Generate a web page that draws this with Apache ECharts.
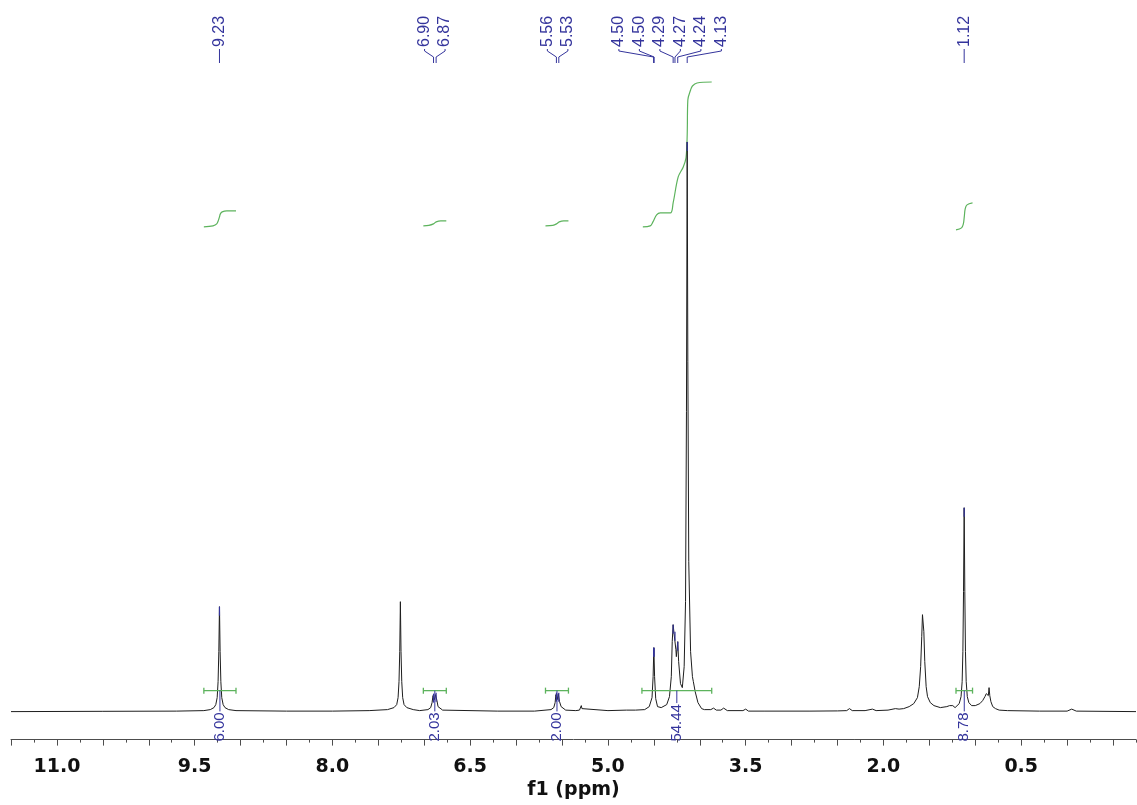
<!DOCTYPE html>
<html>
<head>
<meta charset="utf-8">
<script src="https://cdn.jsdelivr.net/npm/echarts@6/dist/echarts.min.js"></script>
<style>
html,body{margin:0;padding:0;background:#fff;}
#chart{width:1137px;height:805px;}
</style>
</head>
<body>
<div id="chart"></div>
<script>
// ---------- data ----------
// spectrum: [ppm, intensity]
const spectrum = [
  [11.5,0],[10.5,0.3],[9.7,0.5],
  [9.40,1],[9.33,2],[9.29,4],[9.27,7],[9.255,14],[9.245,30],[9.237,60],[9.23,105],[9.223,60],[9.215,30],[9.205,14],[9.19,7],[9.17,4],[9.13,2],[9.05,1],
  [8.5,0.5],[8.0,0.5],[7.6,1],
  [7.40,2],[7.33,4],[7.30,7],[7.285,14],[7.275,30],[7.267,60],[7.26,110],[7.253,60],[7.245,30],[7.235,14],[7.22,7],[7.19,4],[7.12,2],[7.05,1],
  [6.96,2],[6.93,4],[6.915,9],[6.905,16],[6.899,18],[6.889,12],[6.878,17],[6.871,19],[6.862,11],[6.85,5],[6.83,3],[6.80,1.5],
  [6.2,0.5],[5.8,0.5],
  [5.62,2],[5.59,4],[5.575,9],[5.567,17],[5.561,19],[5.552,12],[5.541,18],[5.535,19],[5.527,10],[5.51,5],[5.49,3],[5.46,1.5],
  [5.35,1],[5.31,1.5],[5.297,3],[5.29,6],[5.283,3],[5.27,1.5],
  [5.0,1],[4.8,1.5],[4.70,1.5],[4.60,2],[4.55,5],[4.52,14],[4.508,35],[4.50,64],[4.492,35],[4.48,13],[4.46,5],[4.42,4],
  [4.36,7],[4.33,15],[4.31,35],[4.30,70],[4.29,87],[4.28,78],[4.27,80],[4.26,62],[4.255,55],[4.24,70],[4.23,50],[4.21,28],[4.19,24],
  [4.17,45],[4.155,110],[4.145,300],[4.137,570],[4.13,350],[4.12,150],[4.10,60],[4.08,35],[4.07,30],[4.05,20],[4.02,9],[3.98,3],[3.95,2],
  [3.88,2],[3.85,3.5],[3.82,1.5],[3.77,1.5],[3.74,3.5],[3.70,1],[3.53,1],[3.50,2.5],[3.47,0.5],
  [3.3,0.5],[2.8,0.5],[2.5,0.7],[2.40,1],[2.37,3],[2.34,1],[2.20,1],[2.12,2.5],[2.08,1],
  [1.95,1.5],[1.87,3],[1.83,2.5],[1.78,3],
  [1.72,5],[1.67,8],[1.63,14],[1.61,25],[1.595,45],[1.583,75],[1.575,97],[1.568,99],[1.56,80],[1.55,50],[1.535,25],[1.52,15],[1.49,9],[1.45,6],[1.38,4],[1.31,5],
  [1.28,6],[1.26,8],[1.245,6],[1.22,4],[1.20,4.5],
  [1.175,8],[1.155,15],[1.143,30],[1.135,60],[1.128,120],[1.121,204],[1.114,120],[1.107,60],[1.099,30],[1.087,15],[1.07,9],[1.04,6],[1.00,6],[0.95,8],
  [0.92,11],[0.895,15],[0.88,18],[0.872,17],[0.866,20],[0.858,16],[0.85,24],[0.842,16],[0.83,10],[0.81,5],[0.78,3],[0.74,1.5],[0.65,1],
  [0.3,0.5],[0.0,0.5],[-0.05,2.5],[-0.07,2.5],[-0.1,0.5],[-0.75,0]
];

const tickLabels = [11.0, 9.5, 8.0, 6.5, 5.0, 3.5, 2.0, 0.5];

const peakLabels = ['9.23','6.90','6.87','5.56','5.53','4.50','4.50','4.29','4.27','4.24','4.13','1.12'];
const peakPositions = [9.23, 6.899, 6.871, 5.561, 5.535, 4.503, 4.497, 4.29, 4.27, 4.24, 4.137, 1.121];

const integralRanges = [[9.40,9.05],[7.01,6.76],[5.68,5.43],[4.63,3.87],[1.21,1.03]];
const integralValues = ['6.00','2.03','2.00','54.44','8.78'];

const integralCurve1 = [[9.40,485],[9.30,486],[9.26,488],[9.24,492],[9.23,495],[9.22,498],[9.20,500],[9.15,501],[9.05,501]];
const integralCurve2 = [[7.01,486],[6.95,486.5],[6.90,488],[6.87,490],[6.82,491],[6.76,491]];
const integralCurve3 = [[5.68,486],[5.60,486.5],[5.56,488],[5.53,490],[5.48,491],[5.43,491]];
const integralCurve4 = [[4.62,485],[4.54,486],[4.51,490],[4.47,497],[4.43,499],[4.32,499],[4.29,509],[4.235,535],[4.18,545],[4.15,554],[4.137,577],[4.13,612],[4.10,622],[4.08,626],[4.03,629],[3.87,630]];
const integralCurve5 = [[1.21,482],[1.15,484],[1.13,488],[1.12,495],[1.11,503],[1.09,507],[1.03,509]];
const integralCurves = [integralCurve1, integralCurve2, integralCurve3, integralCurve4, integralCurve5];

// ---------- styling ----------
const BLUE = '#34349c';
const GREEN = '#5db35d';
const X_MIN = -0.75, X_MAX = 11.5;

const minorTicks = [];
for (let v = X_MIN; v <= X_MAX + 1e-9; v += 0.25) minorTicks.push(+v.toFixed(2));
const majorTicks = [];
for (let v = -0.5; v <= X_MAX + 1e-9; v += 0.5) majorTicks.push(+v.toFixed(2));

// group peak labels that are close together
const groups = [];
peakPositions.forEach((p, i) => {
  const g = groups[groups.length - 1];
  if (g && Math.abs(peakPositions[g[g.length - 1]] - p) < 0.3) g.push(i);
  else groups.push([i]);
});
const groupOf = {};
groups.forEach((g, gi) => g.forEach((idx, k) => { groupOf[idx] = {gi, k, n: g.length}; }));

function apexOf(ppm) {
  let best = 0;
  spectrum.forEach(pt => { if (Math.abs(pt[0] - ppm) < 0.008 && pt[1] > best) best = pt[1]; });
  return best;
}

const measureCtx = document.createElement('canvas').getContext('2d');
function textW(t, font) { measureCtx.font = font; return measureCtx.measureText(t).width; }

const labelFont = '16px "Liberation Sans", Arial, sans-serif';
const intFont = '15px "Liberation Sans", Arial, sans-serif';

const chart = echarts.init(document.getElementById('chart'));

const series = [
  {
    type: 'line', data: spectrum, showSymbol: false, symbol: 'none',
    lineStyle: {color: '#1e1e1e', width: 1}, silent: true, z: 3
  }
];
integralCurves.forEach(c => series.push({
  type: 'line', data: c, symbol: 'none', smooth: 0.35,
  lineStyle: {color: GREEN, width: 1.2}, silent: true, z: 2
}));

// integral bars
series.push({
  type: 'custom', clip: false, silent: true, z: 4,
  data: integralRanges.map((r, i) => [r[0], r[1], i]),
  encode: {x: [0, 1]},
  renderItem: function (params, api) {
    const level = 21;
    const a = api.coord([api.value(0), level]);
    const b = api.coord([api.value(1), level]);
    const st = {stroke: GREEN, lineWidth: 1.3};
    return {type: 'group', children: [
      {type: 'line', shape: {x1: a[0], y1: a[1], x2: b[0], y2: b[1]}, style: st},
      {type: 'line', shape: {x1: a[0], y1: a[1] - 3, x2: a[0], y2: a[1] + 3}, style: st},
      {type: 'line', shape: {x1: b[0], y1: b[1] - 3, x2: b[0], y2: b[1] + 3}, style: st}
    ]};
  }
});

// integral values (below spectrum, rotated)
series.push({
  type: 'custom', clip: false, silent: true, z: 6,
  data: integralRanges.map((r, i) => [(r[0] + r[1]) / 2, i]),
  encode: {x: 0},
  renderItem: function (params, api) {
    const i = api.value(1);
    const c = api.coord([api.value(0), 21]);
    const base = api.coord([api.value(0), -30])[1];
    const w = textW(integralValues[i], intFont);
    return {type: 'group', children: [
      {type: 'line', shape: {x1: c[0], y1: c[1], x2: c[0], y2: base - w - 1}, style: {stroke: BLUE, lineWidth: 1}},
      {type: 'text', x: c[0], y: base, rotation: Math.PI / 2,
        style: {text: integralValues[i], font: intFont, fill: BLUE, align: 'left', verticalAlign: 'middle'}}
    ]};
  }
});

// apex marks
series.push({
  type: 'custom', clip: false, silent: true, z: 5,
  data: peakPositions.map((p, i) => [p, i]),
  encode: {x: 0},
  renderItem: function (params, api) {
    const p = api.value(0);
    const top = api.coord([p, apexOf(p)]);
    return {type: 'line', shape: {x1: top[0], y1: top[1], x2: top[0], y2: top[1] + 9}, style: {stroke: BLUE, lineWidth: 1.2}};
  }
});

// peak labels at top
series.push({
  type: 'custom', clip: false, silent: true, z: 6,
  data: peakPositions.map((p, i) => [p, i]),
  encode: {x: 0},
  renderItem: function (params, api) {
    const i = api.value(1);
    const info = groupOf[i];
    const g = groups[info.gi];
    let cx = 0;
    g.forEach(idx => { cx += api.coord([peakPositions[idx], 0])[0]; });
    cx /= g.length;
    const lx = cx + (info.k - (info.n - 1) / 2) * 20.5;
    const px = api.coord([peakPositions[i], 0])[0];
    const st = {stroke: BLUE, lineWidth: 1, fill: null};
    return {type: 'group', children: [
      {type: 'polyline', shape: {points: [[lx, 49], [lx, 51], [px, 57], [px, 63]]}, style: st},
      {type: 'text', x: lx, y: 47, rotation: Math.PI / 2,
        style: {text: peakLabels[i], font: labelFont, fill: BLUE, align: 'left', verticalAlign: 'middle'}}
    ]};
  }
});

const axisCommon = {
  type: 'value', min: X_MIN, max: X_MAX, inverse: true, position: 'bottom', gridIndex: 0,
  splitLine: {show: false}
};

chart.setOption({
  animation: false,
  backgroundColor: '#ffffff',
  grid: {left: 11, right: 1, top: 40, bottom: 65, containLabel: false},
  xAxis: [
    Object.assign({}, axisCommon, {
      axisLine: {show: true, onZero: false, lineStyle: {color: '#4d4d4d', width: 1}},
      axisTick: {show: true, customValues: minorTicks, length: 3, lineStyle: {color: '#4d4d4d'}},
      axisLabel: {
        show: true, customValues: tickLabels, formatter: v => Number(v).toFixed(1),
        fontFamily: 'DejaVu Sans', fontWeight: 'bold', fontSize: 19, color: '#111',
        margin: 27, verticalAlign: 'middle'
      },
      name: 'f1 (ppm)', nameLocation: 'middle', nameGap: 49,
      nameTextStyle: {fontFamily: 'DejaVu Sans', fontWeight: 'bold', fontSize: 19, color: '#111', verticalAlign: 'middle'}
    }),
    Object.assign({}, axisCommon, {
      axisLine: {show: false, onZero: false},
      axisTick: {show: true, customValues: majorTicks, length: 6, lineStyle: {color: '#4d4d4d'}},
      axisLabel: {show: false}
    })
  ],
  yAxis: {type: 'value', min: -28, max: 672, show: false, splitLine: {show: false}},
  series: series
});
</script>
</body>
</html>
